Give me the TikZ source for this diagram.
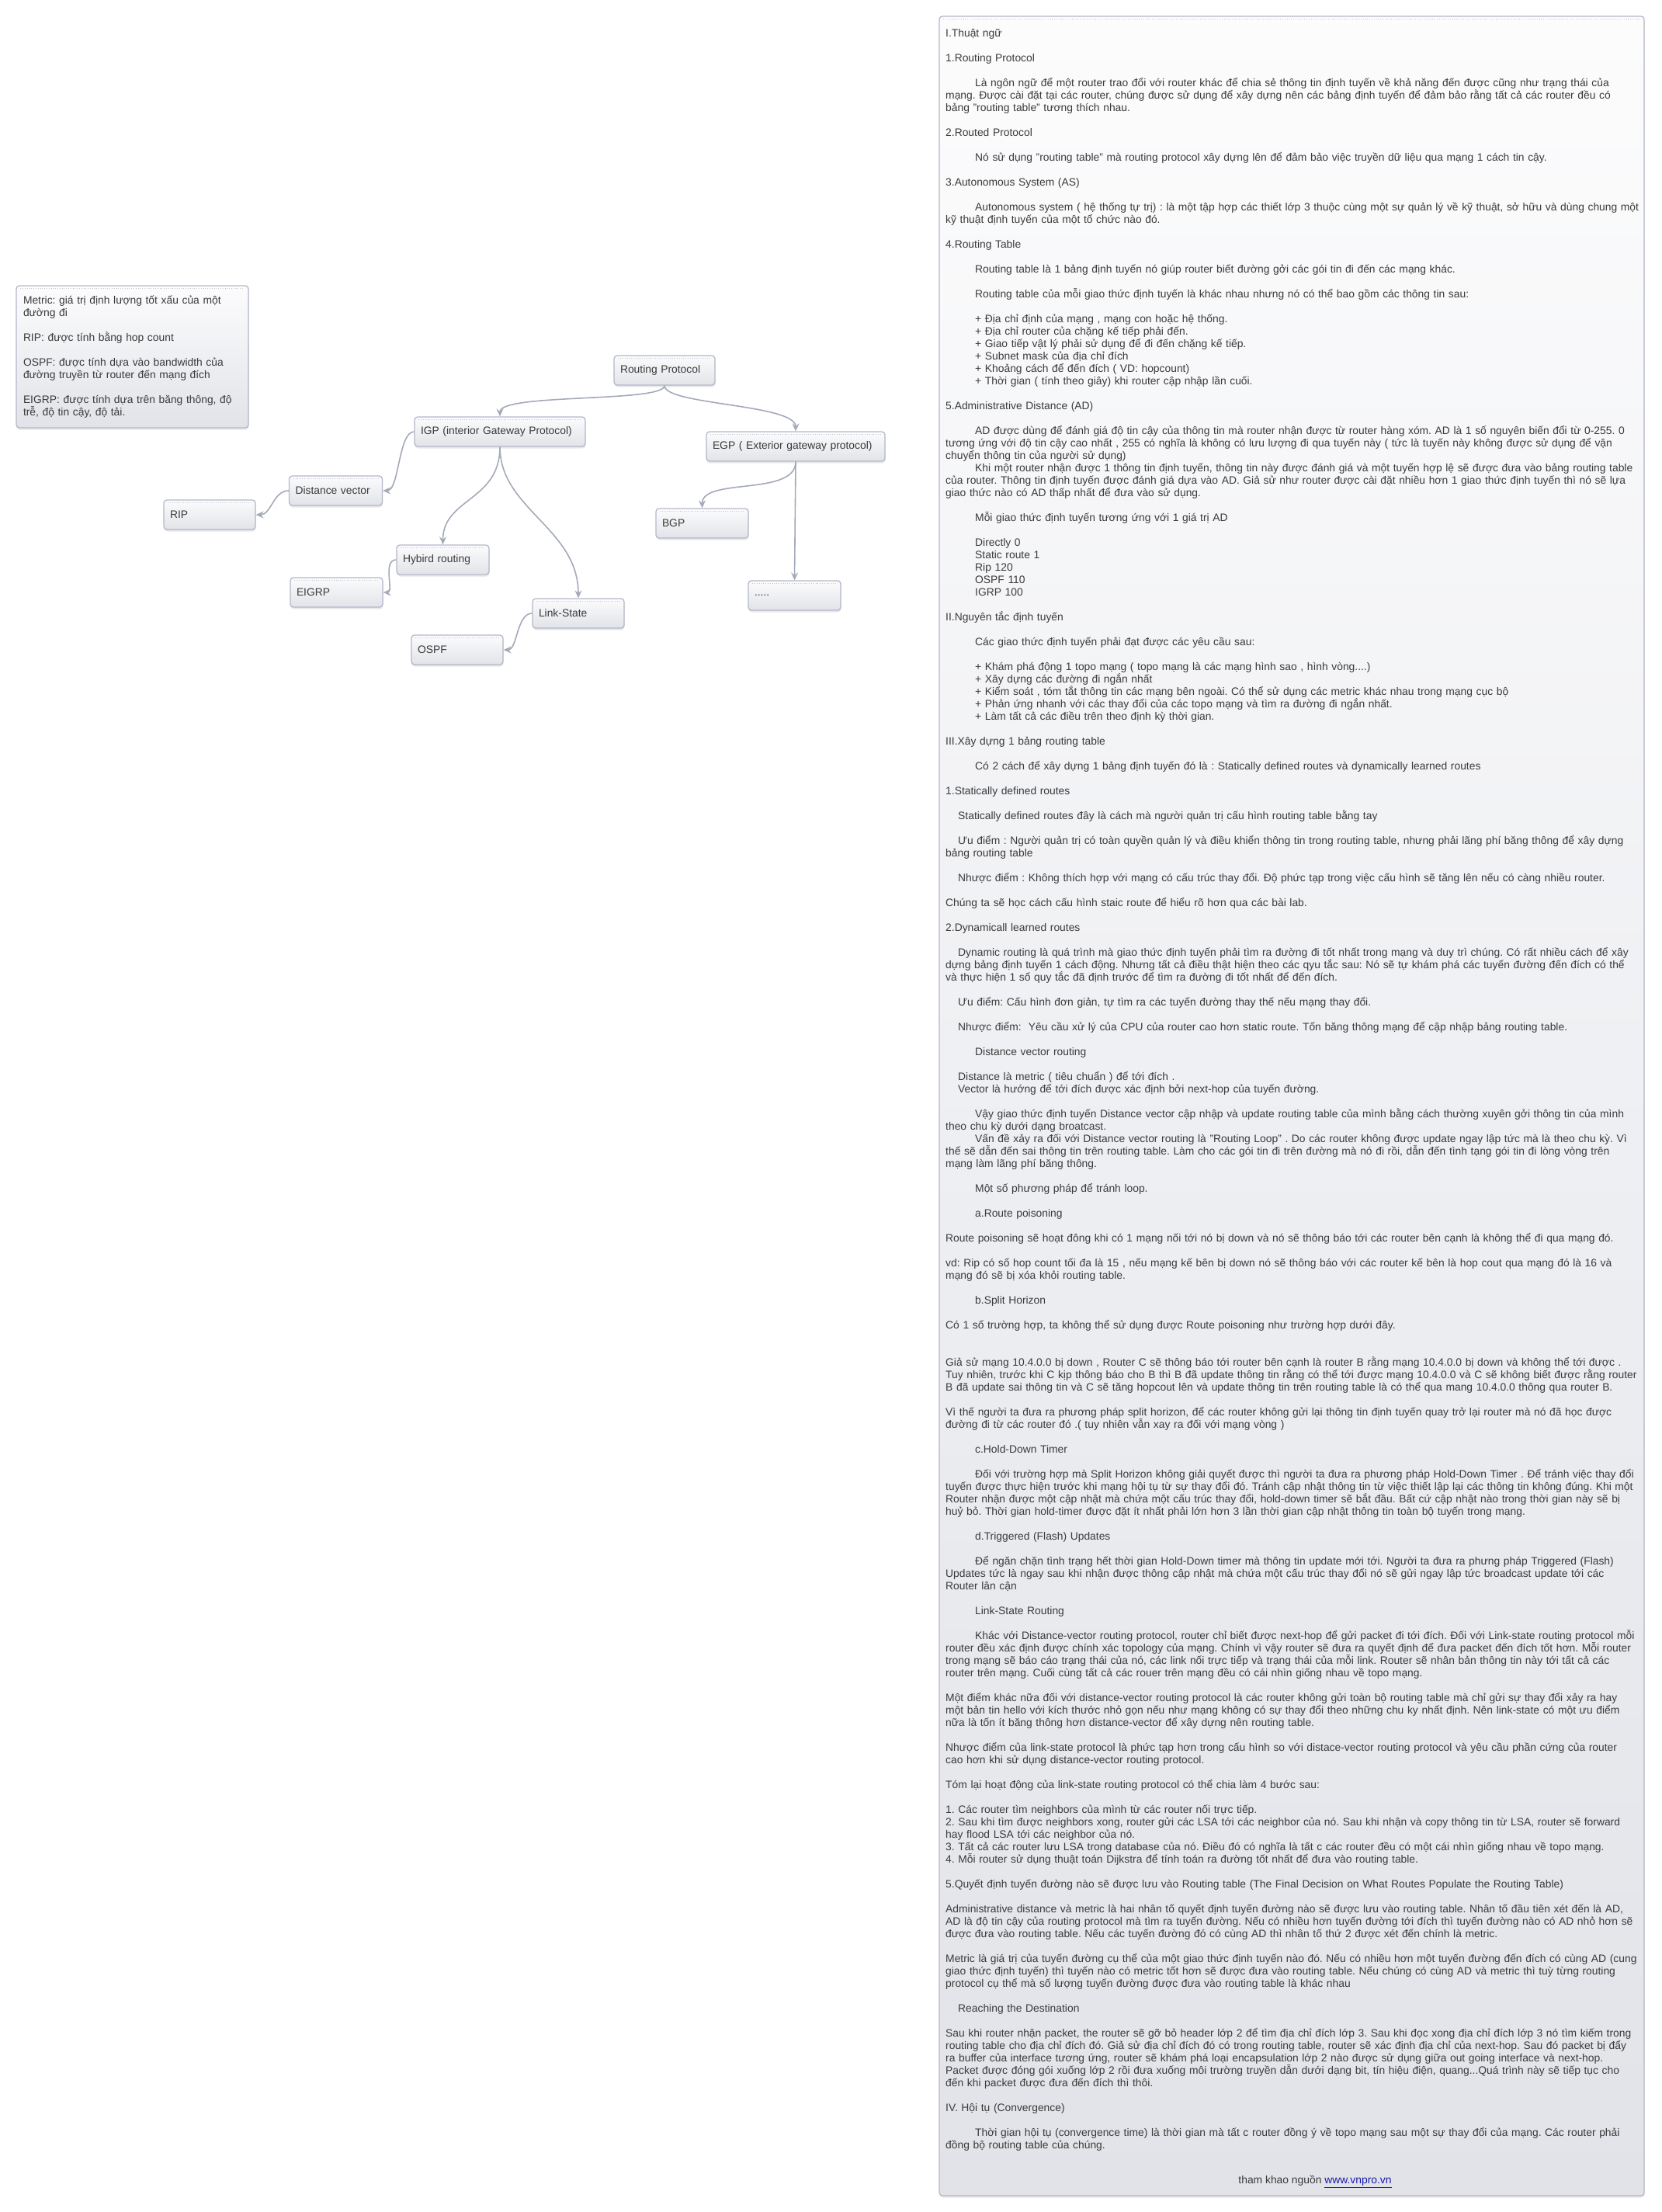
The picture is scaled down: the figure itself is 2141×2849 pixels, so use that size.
\documentclass[tikz,border=0pt]{standalone}
\usepackage{fontspec}
\setmainfont{Liberation Sans}
\usetikzlibrary{arrows.meta,shadows}
\definecolor{txt}{HTML}{3A3A3A}
\definecolor{bord}{HTML}{B4B8CA}
\definecolor{gtop}{HTML}{FCFCFD}
\definecolor{gbot}{HTML}{E1E3E8}
\definecolor{edgec}{HTML}{A4AAB9}
\definecolor{dotc}{HTML}{C3C6D2}
\definecolor{linkblue}{HTML}{1A1AA6}
\lineskiplimit=-100pt
\frenchspacing
\newcommand\indA{\hspace*{38pt}}
\newcommand\indB{\hspace*{16pt}}
\begin{document}
\begin{tikzpicture}[x=1pt,y=-1pt,
  font=\fontsize{13.85}{16}\selectfont\frenchspacing,
  box/.style={draw=bord, line width=1.3pt, rounded corners=4pt,
    top color=gtop, bottom color=gbot,
    drop shadow={shadow xshift=0.5pt, shadow yshift=-2.5pt, opacity=0.18},
    inner xsep=8pt, inner ysep=0pt, align=left, minimum height=38pt, text=txt},
  conn/.style={draw=edgec, line width=1.6pt, -{Stealth[length=10pt,width=9pt,inset=3.5pt]}},
  dotrule/.style={draw=dotc, line width=0.8pt, dotted}]
\useasboundingbox (0,0) rectangle (2141,2849);
\fill[white] (0,0) rectangle (2141,2849);

% note box
\node[box, text width=281pt, inner xsep=9pt, minimum height=183pt] (note) at (170.5,459.5) {%
Metric: giá trị định lượng tốt xấu của một\\
đường đi\\[16pt]
RIP: được tính bằng hop count\\[16pt]
OSPF: được tính dựa vào bandwidth của\\
đường truyền từ router đến mạng đích\\[16pt]
EIGRP: được tính dựa trên băng thông, độ\\
trễ, độ tin cậy, độ tải.};

% tree nodes
\node[box, text width=114pt] (rp) at (856,477) {Routing Protocol};
\node[box, text width=204pt] (igp) at (644,556) {IGP (interior Gateway Protocol)};
\node[box, text width=214pt] (egp) at (1025,575) {EGP ( Exterior gateway protocol)};
\node[box, text width=104pt] (dv) at (432.5,632) {Distance vector};
\node[box, text width=102pt] (rip) at (270,663) {RIP};
\node[box, text width=103pt] (hyb) at (570.5,721) {Hybird routing};
\node[box, text width=103pt] (eigrp) at (433.5,763) {EIGRP};
\node[box, text width=102pt] (ls) at (745,790) {Link-State};
\node[box, text width=102pt] (ospf) at (589,837) {OSPF};
\node[box, text width=103pt] (bgp) at (904.5,674) {BGP};
\node[box, text width=103pt] (more) at (1023.5,767) {.....};

% connectors
\draw[conn] (rp.south) .. controls +(0,22) and +(0,-30) .. (igp.north);
\draw[conn] (rp.south) .. controls +(0,25) and +(0,-35) .. (egp.north);
\draw[conn] (igp.west) .. controls +(-20,0) and +(21,0) .. (dv.east);
\draw[conn] (dv.west) .. controls +(-20,0) and +(20,0) .. (rip.east);
\draw[conn] (igp.south) .. controls +(0,70) and +(0,-60) .. (hyb.north);
\draw[conn] (igp.south) .. controls +(0,80) and +(0,-90) .. (ls.north);
\draw[conn] (hyb.west) .. controls +(-18,0) and +(14,0) .. (eigrp.east);
\draw[conn] (ls.west) .. controls +(-20,0) and +(18,0) .. (ospf.east);
\draw[conn] (egp.south) .. controls +(0,45) and +(0,-40) .. (bgp.north);
\draw[conn] (egp.south) -- (more.north);

% text panel
\node[box, minimum width=908pt, minimum height=2807pt, inner sep=0pt] (panel) at (1664,1424.5) {};

\foreach \n in {note,rp,igp,egp,dv,rip,hyb,eigrp,ls,ospf,bgp,more,panel}
  \draw[dotrule] ([xshift=6pt,yshift=-4.5pt]\n.north west) -- ([xshift=-6pt,yshift=-4.5pt]\n.north east);

\node[anchor=north west, inner sep=0pt, text width=1000pt, align=left, text=txt] (body) at (1218,33) {%
\rule{0pt}{14pt}I.Thuật ngữ\\[16pt]
1.Routing Protocol\\[16pt]
\indA Là ngôn ngữ để một router trao đổi với router khác để chia sẻ thông tin định tuyến về khả năng đến được cũng như trạng thái của\\
mạng. Được cài đặt tại các router, chúng được sử dụng để xây dựng nên các bảng định tuyến để đảm bảo rằng tất cả các router đều có\\
bảng "routing table" tương thích nhau.\\[16pt]
2.Routed Protocol\\[16pt]
\indA Nó sử dụng "routing table" mà routing protocol xây dựng lên để đảm bảo việc truyền dữ liệu qua mạng 1 cách tin cậy.\\[16pt]
3.Autonomous System (AS)\\[16pt]
\indA Autonomous system ( hệ thống tự trị) : là một tập hợp các thiết lớp 3 thuộc cùng một sự quản lý về kỹ thuật, sở hữu và dùng chung một\\
kỹ thuật định tuyến của một tổ chức nào đó.\\[16pt]
4.Routing Table\\[16pt]
\indA Routing table là 1 bảng định tuyến nó giúp router biết đường gởi các gói tin đi đến các mạng khác.\\[16pt]
\indA Routing table của mỗi giao thức định tuyến là khác nhau nhưng nó có thể bao gồm các thông tin sau:\\[16pt]
\indA + Địa chỉ định của mạng , mạng con hoặc hệ thống.\\
\indA + Địa chỉ router của chặng kế tiếp phải đến.\\
\indA + Giao tiếp vật lý phải sử dụng để đi đến chặng kế tiếp.\\
\indA + Subnet mask của địa chỉ đích\\
\indA + Khoảng cách để đến đích ( VD: hopcount)\\
\indA + Thời gian ( tính theo giây) khi router cập nhập lần cuối.\\[16pt]
5.Administrative Distance (AD)\\[16pt]
\indA AD được dùng để đánh giá độ tin cậy của thông tin mà router nhận được từ router hàng xóm. AD là 1 số nguyên biến đổi từ 0-255. 0\\
tương ứng với độ tin cậy cao nhất , 255 có nghĩa là không có lưu lượng đi qua tuyến này ( tức là tuyến này không được sử dụng để vận\\
chuyển thông tin của người sử dụng)\\
\indA Khi một router nhận được 1 thông tin định tuyến, thông tin này được đánh giá và một tuyến hợp lệ sẽ được đưa vào bảng routing table\\
của router. Thông tin định tuyến được đánh giá dựa vào AD. Giả sử như router được cài đặt nhiều hơn 1 giao thức định tuyến thì nó sẽ lựa\\
giao thức nào có AD thấp nhất để đưa vào sử dụng.\\[16pt]
\indA Mỗi giao thức định tuyến tương ứng với 1 giá trị AD\\[16pt]
\indA Directly 0\\
\indA Static route 1\\
\indA Rip 120\\
\indA OSPF 110\\
\indA IGRP 100\\[16pt]
II.Nguyên tắc định tuyến\\[16pt]
\indA Các giao thức định tuyến phải đạt được các yêu cầu sau:\\[16pt]
\indA + Khám phá động 1 topo mạng ( topo mạng là các mạng hình sao , hình vòng....)\\
\indA + Xây dựng các đường đi ngắn nhất\\
\indA + Kiểm soát , tóm tắt thông tin các mạng bên ngoài. Có thể sử dụng các metric khác nhau trong mạng cục bộ\\
\indA + Phản ứng nhanh với các thay đổi của các topo mạng và tìm ra đường đi ngắn nhất.\\
\indA + Làm tất cả các điều trên theo định kỳ thời gian.\\[16pt]
III.Xây dựng 1 bảng routing table\\[16pt]
\indA Có 2 cách để xây dựng 1 bảng định tuyến đó là : Statically defined routes và dynamically learned routes\\[16pt]
1.Statically defined routes\\[16pt]
\indB Statically defined routes đây là cách mà người quản trị cấu hình routing table bằng tay\\[16pt]
\indB Ưu điểm : Người quản trị có toàn quyền quản lý và điều khiển thông tin trong routing table, nhưng phải lãng phí băng thông để xây dựng\\
bảng routing table\\[16pt]
\indB Nhược điểm : Không thích hợp với mạng có cấu trúc thay đổi. Độ phức tạp trong việc cấu hình sẽ tăng lên nếu có càng nhiều router.\\[16pt]
Chúng ta sẽ học cách cấu hình staic route để hiểu rõ hơn qua các bài lab.\\[16pt]
2.Dynamicall learned routes\\[16pt]
\indB Dynamic routing là quá trình mà giao thức định tuyến phải tìm ra đường đi tốt nhất trong mạng và duy trì chúng. Có rất nhiều cách để xây\\
dựng bảng định tuyến 1 cách động. Nhưng tất cả điều thật hiện theo các qyu tắc sau: Nó sẽ tự khám phá các tuyến đường đến đích có thể\\
và thực hiện 1 số quy tắc đã định trước để tìm ra đường đi tốt nhất để đến đích.\\[16pt]
\indB Ưu điểm: Cấu hình đơn giản, tự tìm ra các tuyến đường thay thế nếu mạng thay đổi.\\[16pt]
\indB Nhược điểm:\ \ Yêu cầu xử lý của CPU của router cao hơn static route. Tốn băng thông mạng để cập nhập bảng routing table.\\[16pt]
\indA Distance vector routing\\[16pt]
\indB Distance là metric ( tiêu chuẩn ) để tới đích .\\
\indB Vector là hướng để tới đích được xác định bởi next-hop của tuyến đường.\\[16pt]
\indA Vậy giao thức định tuyến Distance vector cập nhập và update routing table của mình bằng cách thường xuyên gởi thông tin của mình\\
theo chu kỳ dưới dạng broatcast.\\
\indA Vấn đề xảy ra đối với Distance vector routing là "Routing Loop" . Do các router không được update ngay lập tức mà là theo chu kỳ. Vì\\
thế sẽ dẫn đến sai thông tin trên routing table. Làm cho các gói tin đi trên đường mà nó đi rồi, dẫn đến tình tạng gói tin đi lòng vòng trên\\
mạng làm lãng phí băng thông.\\[16pt]
\indA Một số phương pháp để tránh loop.\\[16pt]
\indA a.Route poisoning\\[16pt]
Route poisoning sẽ hoạt đông khi có 1 mạng nối tới nó bị down và nó sẽ thông báo tới các router bên cạnh là không thể đi qua mạng đó.\\[16pt]
vd: Rip có số hop count tối đa là 15 , nếu mạng kế bên bị down nó sẽ thông báo với các router kế bên là hop cout qua mạng đó là 16 và\\
mạng đó sẽ bị xóa khỏi routing table.\\[16pt]
\indA b.Split Horizon\\[16pt]
Có 1 số trường hợp, ta không thể sử dụng được Route poisoning như trường hợp dưới đây.\\[32pt]
Giả sử mạng 10.4.0.0 bị down , Router C sẽ thông báo tới router bên cạnh là router B rằng mạng 10.4.0.0 bị down và không thể tới được .\\
Tuy nhiên, trước khi C kịp thông báo cho B thì B đã update thông tin rằng có thể tới được mạng 10.4.0.0 và C sẽ không biết được rằng router\\
B đã update sai thông tin và C sẽ tăng hopcout lên và update thông tin trên routing table là có thể qua mang 10.4.0.0 thông qua router B.\\[16pt]
Vì thế người ta đưa ra phương pháp split horizon, để các router không gửi lại thông tin định tuyến quay trở lại router mà nó đã học được\\
đường đi từ các router đó .( tuy nhiên vẫn xay ra đối với mạng vòng )\\[16pt]
\indA c.Hold-Down Timer\\[16pt]
\indA Đối với trường hợp mà Split Horizon không giải quyết được thì người ta đưa ra phương pháp Hold-Down Timer . Để tránh việc thay đổi\\
tuyến được thực hiện trước khi mạng hội tụ từ sự thay đổi đó. Tránh cập nhật thông tin từ việc thiết lập lại các thông tin không đúng. Khi một\\
Router nhận được một cập nhật mà chứa một cấu trúc thay đổi, hold-down timer sẽ bắt đầu. Bất cứ cập nhật nào trong thời gian này sẽ bị\\
huỷ bỏ. Thời gian hold-timer được đặt ít nhất phải lớn hơn 3 lần thời gian cập nhật thông tin toàn bộ tuyến trong mạng.\\[16pt]
\indA d.Triggered (Flash) Updates\\[16pt]
\indA Để ngăn chặn tình trạng hết thời gian Hold-Down timer mà thông tin update mới tới. Người ta đưa ra phưng pháp Triggered (Flash)\\
Updates tức là ngay sau khi nhận được thông cập nhật mà chứa một cấu trúc thay đổi nó sẽ gửi ngay lập tức broadcast update tới các\\
Router lân cận\\[16pt]
\indA Link-State Routing\\[16pt]
\indA Khác với Distance-vector routing protocol, router chỉ biết được next-hop để gửi packet đi tới đích. Đối với Link-state routing protocol mỗi\\
router đều xác định được chính xác topology của mạng. Chính vì vậy router sẽ đưa ra quyết định để đưa packet đến đích tốt hơn. Mỗi router\\
trong mạng sẽ báo cáo trạng thái của nó, các link nối trực tiếp và trạng thái của mỗi link. Router sẽ nhân bản thông tin này tới tất cả các\\
router trên mạng. Cuối cùng tất cả các rouer trên mạng đều có cái nhìn giống nhau về topo mạng.\\[16pt]
Một điểm khác nữa đối với distance-vector routing protocol là các router không gửi toàn bộ routing table mà chỉ gửi sự thay đổi xảy ra hay\\
một bản tin hello với kích thước nhỏ gọn nếu như mạng không có sự thay đổi theo những chu ky nhất định. Nên link-state có một ưu điểm\\
nữa là tốn ít băng thông hơn distance-vector để xây dựng nên routing table.\\[16pt]
Nhược điểm của link-state protocol là phức tạp hơn trong cấu hình so với distace-vector routing protocol và yêu cầu phần cứng của router\\
cao hơn khi sử dụng distance-vector routing protocol.\\[16pt]
Tóm lại hoạt động của link-state routing protocol có thể chia làm 4 bước sau:\\[16pt]
1. Các router tìm neighbors của mình từ các router nối trực tiếp.\\
2. Sau khi tìm được neighbors xong, router gửi các LSA tới các neighbor của nó. Sau khi nhận và copy thông tin từ LSA, router sẽ forward\\
hay flood LSA tới các neighbor của nó.\\
3. Tất cả các router lưu LSA trong database của nó. Điều đó có nghĩa là tất c các router đều có một cái nhìn giống nhau về topo mạng.\\
4. Mỗi router sử dụng thuật toán Dijkstra để tính toán ra đường tốt nhất để đưa vào routing table.\\[16pt]
5.Quyết định tuyến đường nào sẽ được lưu vào Routing table (The Final Decision on What Routes Populate the Routing Table)\\[16pt]
Administrative distance và metric là hai nhân tố quyết định tuyến đường nào sẽ được lưu vào routing table. Nhân tố đầu tiên xét đến là AD,\\
AD là độ tin cậy của routing protocol mà tìm ra tuyến đường. Nếu có nhiều hơn tuyến đường tới đích thì tuyến đường nào có AD nhỏ hơn sẽ\\
được đưa vào routing table. Nếu các tuyến đường đó có cùng AD thì nhân tố thứ 2 được xét đến chính là metric.\\[16pt]
Metric là giá trị của tuyến đường cụ thể của một giao thức định tuyến nào đó. Nếu có nhiều hơn một tuyến đường đến đích có cùng AD (cung\\
giao thức định tuyến) thì tuyến nào có metric tốt hơn sẽ được đưa vào routing table. Nếu chúng có cùng AD và metric thì tuỳ từng routing\\
protocol cụ thể mà số lượng tuyến đường được đưa vào routing table là khác nhau\\[16pt]
\indB Reaching the Destination\\[16pt]
Sau khi router nhận packet, the router sẽ gỡ bỏ header lớp 2 để tìm địa chỉ đích lớp 3. Sau khi đọc xong địa chỉ đích lớp 3 nó tìm kiếm trong\\
routing table cho địa chỉ đích đó. Giả sử địa chỉ đích đó có trong routing table, router sẽ xác định địa chỉ của next-hop. Sau đó packet bị đẩy\\
ra buffer của interface tương ứng, router sẽ khám phá loại encapsulation lớp 2 nào được sử dụng giữa out going interface và next-hop.\\
Packet được đóng gói xuống lớp 2 rồi đưa xuống môi trường truyền dẫn dưới dạng bit, tín hiệu điện, quang...Quá trình này sẽ tiếp tục cho\\
đến khi packet được đưa đến đích thì thôi.\\[16pt]
IV. Hội tụ (Convergence)\\[16pt]
\indA Thời gian hội tụ (convergence time) là thời gian mà tất c router đồng ý về topo mạng sau một sự thay đổi của mạng. Các router phải\\
đồng bộ routing table của chúng.};

\node[text=txt, inner sep=0pt] (src) at (1694,2810) {tham khao nguồn {\color{linkblue}\underline{www.vnpro.vn}}};
\end{tikzpicture}
\end{document}
